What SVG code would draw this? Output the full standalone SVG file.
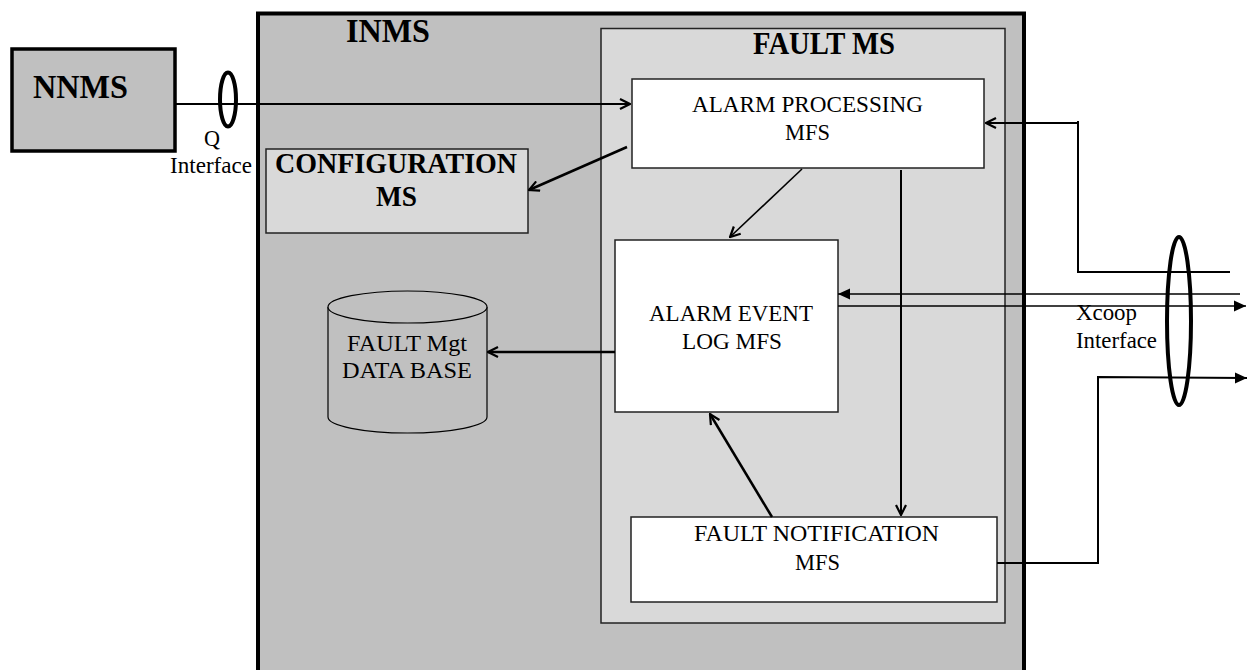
<svg xmlns="http://www.w3.org/2000/svg" width="1249" height="670" viewBox="0 0 1249 670">
  <style>
    text { font-family: "Liberation Serif", "Times New Roman", serif; fill: #000; }
    .reg { font-size: 23.5px; }
    .title { font-size: 34px; font-weight: bold; }
    .sub { font-size: 29px; font-weight: bold; }
    .box { fill: #fff; stroke: #222; stroke-width: 1.5; }
    .wire { fill: none; stroke: #000; }
  </style>
  <defs>
    <marker id="open" viewBox="0 0 12 12" refX="11" refY="6" markerWidth="12" markerHeight="12" markerUnits="userSpaceOnUse" orient="auto">
      <path d="M1,1 L11,6 L1,11" fill="none" stroke="#000" stroke-width="2.2"/>
    </marker>
    <marker id="solid" viewBox="0 0 12 12" refX="12" refY="6" markerWidth="12" markerHeight="12" markerUnits="userSpaceOnUse" orient="auto">
      <path d="M0,0.5 L12,6 L0,11.5 z" fill="#000"/>
    </marker>
  </defs>

  <rect width="1249" height="670" fill="#fff"/>

  <!-- INMS container -->
  <g id="inms">
    <rect x="258" y="13.5" width="766" height="680" fill="#c0c0c0" stroke="#000" stroke-width="4"/>
    <text class="title" x="346" y="42" textLength="84" lengthAdjust="spacingAndGlyphs">INMS</text>
  </g>

  <!-- Fault management subsystem -->
  <g id="fault-ms">
    <rect x="601" y="28.5" width="404" height="594.5" fill="#d9d9d9" stroke="#222" stroke-width="1.5"/>
    <text class="sub" x="753" y="54" textLength="142" lengthAdjust="spacingAndGlyphs" style="font-size:31px">FAULT MS</text>
  </g>

  <!-- Network NMS -->
  <g id="nnms">
    <rect x="12" y="49" width="163" height="102" fill="#c0c0c0" stroke="#000" stroke-width="3.5"/>
    <text class="title" x="33" y="98" textLength="95" lengthAdjust="spacingAndGlyphs">NNMS</text>
  </g>

  <!-- Configuration subsystem -->
  <g id="configuration-ms">
    <rect x="266" y="149" width="262" height="84" fill="#d9d9d9" stroke="#222" stroke-width="1.5"/>
    <text class="sub" x="275" y="173" textLength="242" lengthAdjust="spacingAndGlyphs">CONFIGURATION</text>
    <text class="sub" x="376" y="206" textLength="41" lengthAdjust="spacingAndGlyphs">MS</text>
  </g>

  <!-- Alarm processing -->
  <g id="alarm-processing">
    <rect class="box" x="632" y="79" width="352" height="89"/>
    <text class="reg" x="692" y="112" textLength="231" lengthAdjust="spacingAndGlyphs">ALARM PROCESSING</text>
    <text class="reg" x="785" y="140" textLength="45" lengthAdjust="spacingAndGlyphs">MFS</text>
  </g>

  <!-- Alarm event log -->
  <g id="alarm-event-log">
    <rect class="box" x="615" y="240" width="223" height="172"/>
    <text class="reg" x="649" y="321" textLength="164" lengthAdjust="spacingAndGlyphs">ALARM EVENT</text>
    <text class="reg" x="682" y="349" textLength="100" lengthAdjust="spacingAndGlyphs">LOG MFS</text>
  </g>

  <!-- Fault notification -->
  <g id="fault-notification">
    <rect class="box" x="631" y="517" width="366" height="85"/>
    <text class="reg" x="694" y="541" textLength="245" lengthAdjust="spacingAndGlyphs">FAULT NOTIFICATION</text>
    <text class="reg" x="795" y="570" textLength="45" lengthAdjust="spacingAndGlyphs">MFS</text>
  </g>

  <!-- Fault management database -->
  <g id="fault-db">
    <path d="M328,307 L328,417 A79.5,16 0 0 0 487,417 L487,307" fill="#c0c0c0" stroke="#000" stroke-width="1.2"/>
    <ellipse cx="407.5" cy="307" rx="79.5" ry="16" fill="#c0c0c0" stroke="#000" stroke-width="1.2"/>
    <text class="reg" x="347" y="351" textLength="120" lengthAdjust="spacingAndGlyphs">FAULT Mgt</text>
    <text class="reg" x="342" y="378" textLength="130" lengthAdjust="spacingAndGlyphs">DATA BASE</text>
  </g>

  <!-- Connectors -->
  <g id="connectors">
    <!-- Q interface from NNMS -->
    <path class="wire" d="M175,104 L630,104" stroke-width="2" marker-end="url(#open)"/>
    <!-- alarm processing to configuration -->
    <path class="wire" d="M627,147 L529,190" stroke-width="2.5" marker-end="url(#open)"/>
    <!-- alarm processing to event log -->
    <path class="wire" d="M802,169 L730,237" stroke-width="1.6" marker-end="url(#open)"/>
    <!-- alarm processing to fault notification -->
    <path class="wire" d="M901,170 L901,515" stroke-width="2" marker-end="url(#open)"/>
    <!-- fault notification to event log -->
    <path class="wire" d="M772,517 L710,414" stroke-width="2.5" marker-end="url(#open)"/>
    <!-- event log to database -->
    <path class="wire" d="M615,352 L488,352" stroke-width="2.5" marker-end="url(#open)"/>
    <!-- incoming alarms over Xcoop -->
    <path class="wire" d="M1230,272 L1078,272 L1078,121 M1078,123 L986,123" stroke-width="2" marker-end="url(#open)"/>
    <path class="wire" d="M1240,294 L838,294" stroke-width="1.5" marker-end="url(#solid)"/>
    <path class="wire" d="M838,306 L1246,306" stroke-width="1.5" marker-end="url(#solid)"/>
    <path class="wire" d="M997,563 L1098,563 L1098,377 L1247,378" stroke-width="2" marker-end="url(#solid)"/>
  </g>

  <!-- Interface bundles -->
  <g id="q-interface">
    <ellipse cx="228" cy="99.5" rx="8" ry="27" fill="none" stroke="#000" stroke-width="4"/>
    <text class="reg" x="204" y="146" textLength="16" lengthAdjust="spacingAndGlyphs">Q</text>
    <text class="reg" x="170" y="173" textLength="82" lengthAdjust="spacingAndGlyphs">Interface</text>
  </g>
  <g id="xcoop-interface">
    <ellipse cx="1179" cy="321" rx="12" ry="84" fill="none" stroke="#000" stroke-width="4"/>
    <text class="reg" x="1076" y="320" textLength="61" lengthAdjust="spacingAndGlyphs">Xcoop</text>
    <text class="reg" x="1076" y="348" textLength="81" lengthAdjust="spacingAndGlyphs">Interface</text>
  </g>
</svg>
